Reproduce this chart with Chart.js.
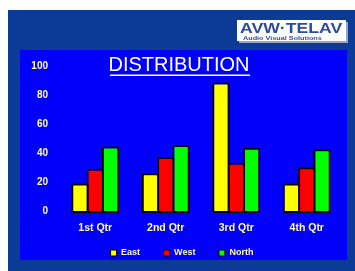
<!DOCTYPE html>
<html>
<head>
<meta charset="utf-8">
<title>Distribution</title>
<script src="https://cdn.jsdelivr.net/npm/chart.js@4/dist/chart.umd.min.js"></script>
<style>
  html, body { margin: 0; padding: 0; background: #ffffff; }
  #wrap { position: relative; width: 355px; height: 271px; }
</style>
</head>
<body>
<div id="wrap"><canvas id="chart-dist" width="355" height="271"></canvas></div>
<script>
// ─────────────────────────────────────────────────────────────────────────────
// Data
// ─────────────────────────────────────────────────────────────────────────────

const QUARTERS = ['1st Qtr', '2nd Qtr', '3rd Qtr', '4th Qtr'];
const EAST     = [20.4, 27.4, 90, 20.4];
const WEST     = [30.6, 38.6, 34.6, 31.6];
const NORTH    = [45.9, 46.9, 45, 43.9];
const Y_TICKS  = [0, 20, 40, 60, 80, 100];

// ─────────────────────────────────────────────────────────────────────────────
// Look
// ─────────────────────────────────────────────────────────────────────────────

const FONT_FAMILY = "'Liberation Sans', Arial, sans-serif";
const NAVY  = '#0b3b97';
const PANEL = '#0000fb';
const LABEL = '#ffffa0';

// trailing room after each legend entry (the last one needs less)
const LEGEND_GAP = [7, 7, 2];

// Backdrop, logo and title: drawn straight onto the canvas
const backdrop = {
  id: 'backdrop',
  beforeDraw(chart) {
    const ctx = chart.ctx;
    ctx.save();
    ctx.fillStyle = '#ffffff';
    ctx.fillRect(0, 0, chart.width, chart.height);
    ctx.fillStyle = NAVY;
    ctx.fillRect(8, 10, chart.width - 8, chart.height - 10);
    ctx.fillStyle = PANEL;
    ctx.fillRect(20, 50, 327, 210);

    // logo box
    ctx.fillStyle = '#9aa6c4';
    ctx.fillRect(239, 22, 109, 21);
    ctx.fillStyle = '#ffffff';
    ctx.fillRect(237, 20, 109, 21);
    ctx.fillStyle = '#2c4c9c';
    ctx.textBaseline = 'alphabetic';
    ctx.textAlign = 'left';
    ctx.save();
    ctx.translate(240, 33);
    ctx.scale(1.26, 1);
    ctx.font = `bold 14px ${FONT_FAMILY}`;
    ctx.fillText('AVW·TELAV', 0, 0);
    ctx.restore();
    ctx.save();
    ctx.translate(243, 39.5);
    ctx.scale(1.45, 1);
    ctx.font = `bold 5px ${FONT_FAMILY}`;
    ctx.fillText('Audio Visual Solutions', 0, 0);
    ctx.restore();

    // title
    ctx.fillStyle = '#ffffff';
    ctx.textAlign = 'center';
    ctx.font = `20px ${FONT_FAMILY}`;
    ctx.fillText('DISTRIBUTION', 179, 71);
    ctx.fillRect(110, 74.5, 140, 1.5);
    ctx.restore();
  },
};

const bar = (label, data, color) => ({
  label,
  data,
  backgroundColor: color,
  borderColor: '#000000',
  borderWidth: 2,
  borderSkipped: false,
  barPercentage: 1.13,
  categoryPercentage: 0.652,
});

new Chart(document.getElementById('chart-dist'), { // eslint-disable-line no-undef
  type: 'bar',
  data: {
    labels: QUARTERS,
    datasets: [
      bar('East',  EAST,  '#ffff00'),
      bar('West',  WEST,  '#ff0000'),
      bar('North', NORTH, '#00ff00'),
    ],
  },
  plugins: [backdrop],
  options: {
    responsive: false,
    animation: false,
    layout: { padding: { top: 68, left: 27, right: 13, bottom: 3.5 } },
    scales: {
      x: {
        grid:   { display: false, drawTicks: false },
        border: { display: false },
        ticks:  { color: LABEL, padding: 9, font: { family: FONT_FAMILY, size: 10.5, weight: 'bold' } },
        afterFit: (s) => { s.height = 29.5; },
      },
      y: {
        min: 0,
        max: 100,
        grid:   { display: false, drawTicks: false },
        border: { display: false },
        afterBuildTicks: (s) => { s.ticks = Y_TICKS.map(v => ({ value: v })); },
        ticks:  { color: LABEL, padding: 12, labelOffset: -2, font: { family: FONT_FAMILY, size: 10, weight: 'bold' } },
        afterFit: (s) => { s.width = 33; },
      },
    },
    plugins: {
      tooltip: { enabled: false },
      legend: {
        position: 'bottom',
        labels: {
          color: LABEL,
          boxWidth: 6,
          boxHeight: 6,
          padding: 6,
          font: { family: FONT_FAMILY, size: 9, weight: 'bold' },
          // thin box outline, and room after each entry like the original
          generateLabels: (chart) => Chart.defaults.plugins.legend.labels.generateLabels(chart) // eslint-disable-line no-undef
            .map((item, i) => ({ ...item, lineWidth: 1, text: item.text + '\u00a0'.repeat(LEGEND_GAP[i]) })),
        },
      },
    },
  },
});
</script>
</body>
</html>
